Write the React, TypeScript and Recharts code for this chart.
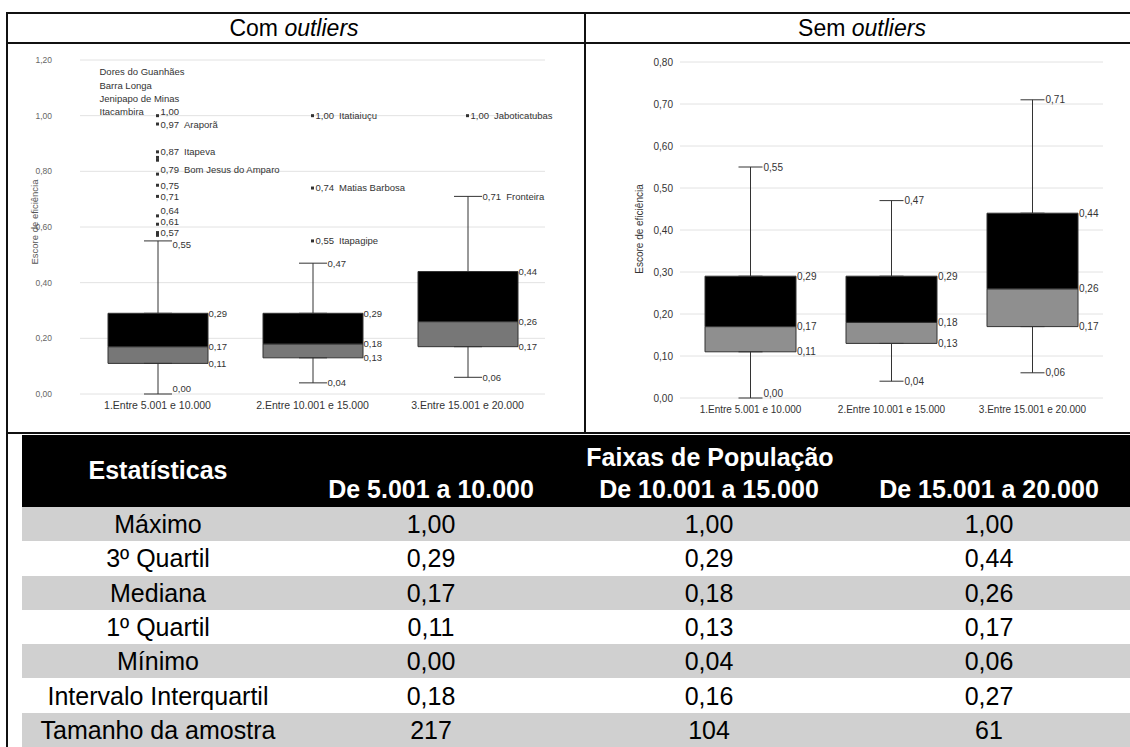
import React from "react"
import { ComposedChart, Bar, Scatter, XAxis, YAxis, CartesianGrid, ErrorBar } from "recharts"

const categories = ["1.Entre 5.001 e 10.000", "2.Entre 10.001 e 15.000", "3.Entre 15.001 e 20.000"]

// estatísticas do box plot (iguais nos dois gráficos)
const whiskerMax = [0.55, 0.47, 0.71]
const q3 = [0.29, 0.29, 0.44]
const median = [0.17, 0.18, 0.26]
const q1 = [0.11, 0.13, 0.17]
const whiskerMin = [0.0, 0.04, 0.06]
const whiskerMaxName = ["", "", "Fronteira"]

// municípios acima do bigode (só no gráfico "com outliers")
const outlierCategory = [0, 0, 0, 0, 0, 0, 0, 0, 0, 0, 0, 0, 1, 1, 1, 2]
const outlierValue = [1.0, 0.97, 0.87, 0.85, 0.84, 0.79, 0.75, 0.71, 0.64, 0.61, 0.58, 0.57, 1.0, 0.74, 0.55, 1.0]
const outlierName = ["Itacambira", "Araporã", "Itapeva", "", "", "Bom Jesus do Amparo", "", "", "", "", "", "", "Itatiaiuçu", "Matias Barbosa", "Itapagipe", "Jaboticatubas"]
const outlierHasLabel = [true, true, true, false, false, true, true, true, true, true, false, true, true, true, true, true]
const tiedNames = ["Dores do Guanhães", "Barra Longa", "Jenipapo de Minas"]

const withTicks = [0, 0.2, 0.4, 0.6, 0.8, 1.0, 1.2]
const withoutTicks = [0, 0.1, 0.2, 0.3, 0.4, 0.5, 0.6, 0.7, 0.8]

// tabela
const statLabels = ["Máximo", "3º Quartil", "Mediana", "1º Quartil", "Mínimo", "Intervalo Interquartil", "Tamanho da amostra"]
const bandLabels = ["De 5.001 a 10.000", "De 10.001 a 15.000", "De 15.001 a 20.000"]
const tableMax = [1.0, 1.0, 1.0]
const iqr = [0.18, 0.16, 0.27]
const sampleSize = [217, 104, 61]

// pequenos deslocamentos verticais dos rótulos (px), para não sobrepor
const outlierLabelDy = [-4, 1, 0, 0, 0, -4, 0, 0, -5.5, -2.5, 0, -2.5, 0, 0, 0, 0]
const whiskerLabelDy = [3.5, 0, 0]
const zeroLift = 5

const fmt = (v: number) => v.toFixed(2).replace(".", ",")
const FONT = '"Liberation Sans", Arial, sans-serif'

const boxData = categories.map((cat, i) => ({
  cat,
  base: q1[i],
  lower: median[i] - q1[i],
  upper: q3[i] - median[i],
  lowErr: [q1[i] - whiskerMin[i], 0],
  upErr: [0, whiskerMax[i] - q3[i]],
}))

const outlierData = outlierValue.map((v, i) => ({
  cat: categories[outlierCategory[i]],
  v,
  label: outlierHasLabel[i] ? fmt(v) : "",
  name: i === 0 ? "" : outlierName[i],
  leftNames: i === 0 ? [...tiedNames, outlierName[0]] : [],
  dy: outlierLabelDy[i],
}))

interface BoxChartProps {
  width: number
  height: number
  margin: { top: number; right: number; bottom: number; left: number }
  yMax: number
  ticks: number[]
  barSize: number
  capHalf: number
  gray: string
  fontSize: number
  axisFont: number
  tickFont: number
  tickFill: string
  yAxisWidth: number
  tickMargin: number
  xAxisHeight: number
  withOutliers: boolean
}

function BoxChart(p: BoxChartProps) {
  const levelData = categories.flatMap((cat, i) => [
    { cat, v: q3[i], text: fmt(q3[i]), kind: "box", dy: 0 },
    { cat, v: median[i], text: fmt(median[i]), kind: "box", dy: 0 },
    { cat, v: q1[i], text: fmt(q1[i]), kind: "box", dy: 0 },
    {
      cat,
      v: whiskerMax[i],
      text: fmt(whiskerMax[i]) + (p.withOutliers && whiskerMaxName[i] ? "  " + whiskerMaxName[i] : ""),
      kind: "whisker",
      dy: p.withOutliers ? whiskerLabelDy[i] : 0,
    },
    { cat, v: whiskerMin[i], text: fmt(whiskerMin[i]), kind: "whisker", dy: whiskerMin[i] === 0 ? -zeroLift : 0 },
  ])

  const LevelLabel = (props: any) => {
    const { cx, cy, payload } = props
    const x = payload.kind === "box" ? cx + p.barSize / 2 + 1 : cx + p.capHalf + 1
    return (
      <text x={x} y={cy + payload.dy} dy="0.35em" fontSize={p.fontSize} fill="#333" fontFamily={FONT} style={{ whiteSpace: "pre" }}>
        {payload.text}
      </text>
    )
  }

  const OutlierMark = (props: any) => {
    const { cx, cy, payload } = props
    const n = payload.leftNames.length
    const ty = cy + payload.dy
    return (
      <g>
        <rect x={cx - 1.5} y={cy - 1.5} width={3} height={3} fill="#333" />
        {payload.label && (
          <text x={cx + 3} y={ty} dy="0.35em" fontSize={p.fontSize} fill="#333" fontFamily={FONT}>
            {payload.label}
            {payload.name && <tspan dx={5}>{payload.name}</tspan>}
          </text>
        )}
        {payload.leftNames.map((nm: string, k: number) => (
          <text key={k} x={cx - 58} y={ty - (n - 1 - k) * 13.2} dy="0.35em" fontSize={p.fontSize} fill="#333" fontFamily={FONT}>
            {nm}
          </text>
        ))}
      </g>
    )
  }

  return (
    <ComposedChart width={p.width} height={p.height} data={boxData} margin={p.margin}>
      <CartesianGrid vertical={false} stroke="#e2e2e2" />
      <XAxis
        dataKey="cat"
        allowDuplicatedCategory={false}
        axisLine={false}
        tickLine={false}
        interval={0}
        height={p.xAxisHeight}
        tick={{ fontSize: p.axisFont, fill: "#333" }}
      />
      <YAxis
        type="number"
        domain={[0, p.yMax]}
        ticks={p.ticks}
        axisLine={false}
        tickLine={false}
        width={p.yAxisWidth}
        tickMargin={p.tickMargin}
        tickFormatter={(v: number) => fmt(v)}
        tick={{ fontSize: p.tickFont, fill: p.tickFill }}
      />
      <Bar dataKey="base" stackId="box" fill="transparent" barSize={p.barSize} isAnimationActive={false}>
        <ErrorBar dataKey="lowErr" width={p.capHalf} stroke="#333" strokeWidth={1} direction="y" />
      </Bar>
      <Bar dataKey="lower" stackId="box" fill={p.gray} stroke="#333" strokeWidth={1} barSize={p.barSize} isAnimationActive={false} />
      <Bar dataKey="upper" stackId="box" fill="#000" stroke="#333" strokeWidth={1} barSize={p.barSize} isAnimationActive={false}>
        <ErrorBar dataKey="upErr" width={p.capHalf} stroke="#333" strokeWidth={1} direction="y" />
      </Bar>
      <Scatter data={levelData} dataKey="v" shape={LevelLabel} isAnimationActive={false} />
      {p.withOutliers && <Scatter data={outlierData} dataKey="v" shape={OutlierMark} isAnimationActive={false} />}
    </ComposedChart>
  )
}

const line = (left: number, top: number, width: number, height: number) => (
  <div style={{ position: "absolute", left, top, width, height, background: "#111" }} />
)

const centered = (cx: number, cy: number, text: React.ReactNode, style: React.CSSProperties = {}) => (
  <div
    style={{
      position: "absolute",
      left: cx - 200,
      top: cy - 15,
      width: 400,
      height: 30,
      lineHeight: "30px",
      textAlign: "center",
      whiteSpace: "nowrap",
      ...style,
    }}
  >
    {text}
  </div>
)

const rowTop = 507
const rowH = 34.3
const colCenters = [431, 709, 989]
const labelCenter = 158

export default function App() {
  const tableRows = [
    tableMax.map(fmt),
    q3.map(fmt),
    median.map(fmt),
    q1.map(fmt),
    whiskerMin.map(fmt),
    iqr.map(fmt),
    sampleSize.map(String),
  ]

  return (
    <div style={{ position: "absolute", left: 0, top: 0, width: 1130, height: 747, background: "#fff", fontFamily: FONT, overflow: "hidden" }}>
      {/* moldura */}
      {line(7, 12, 1123, 2)}
      {line(7, 42, 1123, 2)}
      {line(6, 12, 2, 735)}
      {line(584, 12, 2, 422)}
      {line(7, 432, 1123, 2)}

      {centered(294, 28, <span>Com <i>outliers</i></span>, { fontSize: 23 })}
      {centered(862, 28, <span>Sem <i>outliers</i></span>, { fontSize: 23 })}

      <div style={{ position: "absolute", left: 8, top: 44 }}>
        <BoxChart
          width={576}
          height={388}
          margin={{ top: 16, right: 39, bottom: 8, left: 0 }}
          yMax={1.2}
          ticks={withTicks}
          barSize={100}
          capHalf={14}
          gray="#777"
          fontSize={9.5}
          axisFont={10.5}
          tickFont={8.5}
          tickFill="#666"
          yAxisWidth={72}
          tickMargin={22}
          xAxisHeight={30}
          withOutliers
        />
      </div>
      <div style={{ position: "absolute", left: 586, top: 44 }}>
        <BoxChart
          width={544}
          height={388}
          margin={{ top: 18, right: 27, bottom: 6, left: 0 }}
          yMax={0.8}
          ticks={withoutTicks}
          barSize={91}
          capHalf={12}
          gray="#8f8f8f"
          fontSize={10}
          axisFont={10}
          tickFont={10}
          tickFill="#333"
          yAxisWidth={94}
          tickMargin={1}
          xAxisHeight={28}
          withOutliers={false}
        />
      </div>

      {/* títulos dos eixos Y */}
      <div style={{ position: "absolute", left: 35 - 100, top: 222 - 7, width: 200, height: 14, lineHeight: "14px", textAlign: "center", fontSize: 9.5, color: "#555", transform: "rotate(-90deg)" }}>
        Escore de eficiência
      </div>
      <div style={{ position: "absolute", left: 640 - 100, top: 229 - 7, width: 200, height: 14, lineHeight: "14px", textAlign: "center", fontSize: 10, color: "#333", transform: "rotate(-90deg)" }}>
        Escore de eficiência
      </div>

      {/* tabela */}
      <div style={{ position: "absolute", left: 22, top: 435, width: 1108, height: rowTop - 435, background: "#000" }} />
      {centered(labelCenter, 470, "Estatísticas", { color: "#fff", fontWeight: "bold", fontSize: 25 })}
      {centered(710, 457, "Faixas de População", { color: "#fff", fontWeight: "bold", fontSize: 25 })}
      {bandLabels.map((b, j) => (
        <React.Fragment key={b}>{centered(colCenters[j], 489, b, { color: "#fff", fontWeight: "bold", fontSize: 25 })}</React.Fragment>
      ))}

      {statLabels.map((lab, i) => {
        const top = rowTop + i * rowH
        return (
          <React.Fragment key={lab}>
            <div style={{ position: "absolute", left: 22, top, width: 1108, height: rowH, background: i % 2 === 0 ? "#d0d0d0" : "#fff" }} />
            {centered(labelCenter, top + rowH / 2, lab, { fontSize: 25 })}
            {tableRows[i].map((v, j) => (
              <React.Fragment key={j}>{centered(colCenters[j], top + rowH / 2, v, { fontSize: 25 })}</React.Fragment>
            ))}
          </React.Fragment>
        )
      })}
    </div>
  )
}
